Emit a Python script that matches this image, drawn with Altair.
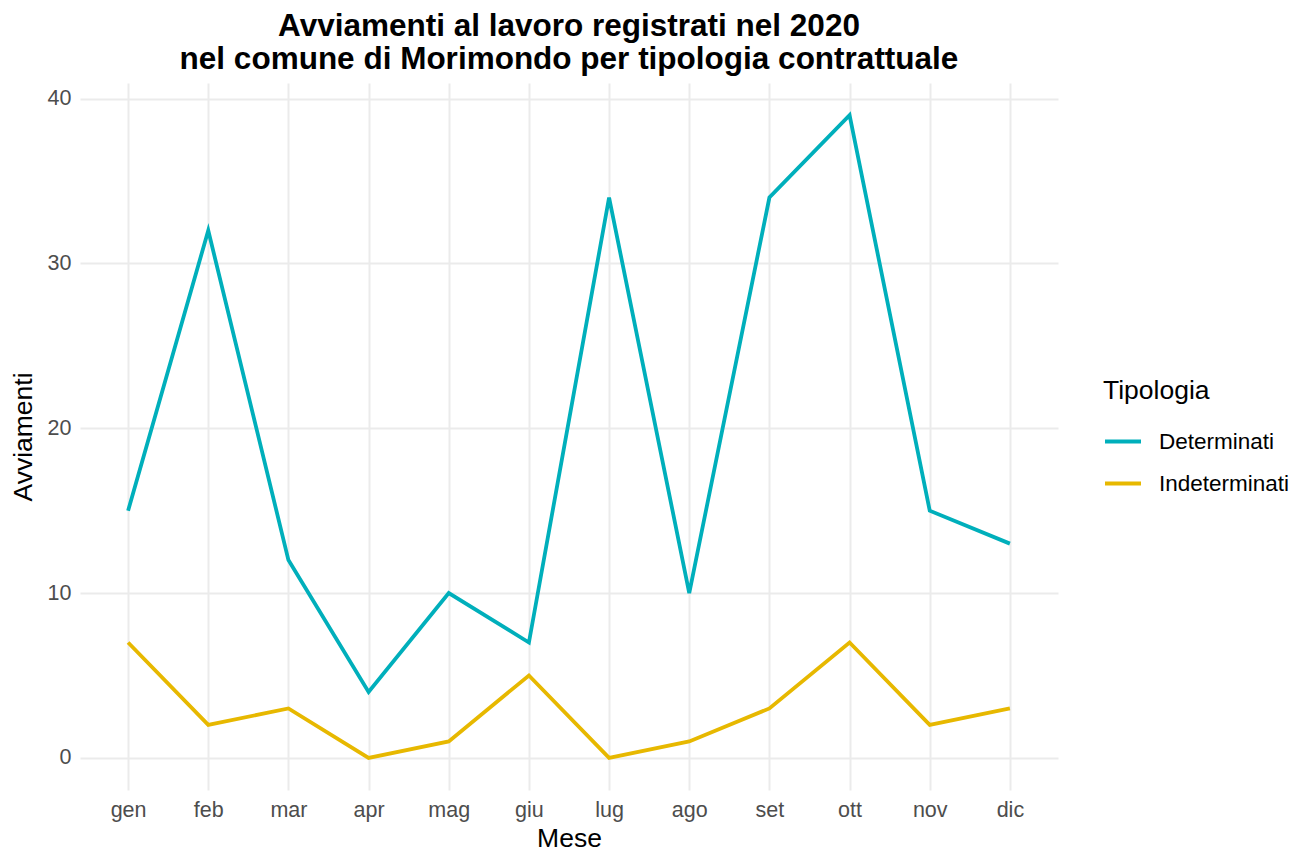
import altair as alt
import pandas as pd

mesi = ["gen", "feb", "mar", "apr", "mag", "giu", "lug", "ago", "set", "ott", "nov", "dic"]
determinati = [15, 32, 12, 4, 10, 7, 34, 10, 34, 39, 15, 13]
indeterminati = [7, 2, 3, 0, 1, 5, 0, 1, 3, 7, 2, 3]
tipologie = ["Determinati", "Indeterminati"]
colori = ["#00AFBB", "#E7B800"]

rows = []
for m, d, i in zip(mesi, determinati, indeterminati):
    rows.append({"Mese": m, "Tipologia": "Determinati", "Avviamenti": d})
    rows.append({"Mese": m, "Tipologia": "Indeterminati", "Avviamenti": i})
df = pd.DataFrame(rows)

FONT = "Liberation Sans"

chart = alt.Chart(df).mark_line(strokeWidth=3.8).encode(
    x=alt.X("Mese:N", sort=mesi,
            scale=alt.Scale(type="point", padding=0.6),
            axis=alt.Axis(title="Mese", labelAngle=0, ticks=False, domain=False,
                          grid=True, gridColor="#EBEBEB", gridWidth=2,
                          labelFontSize=21.5, labelColor="#4D4D4D", labelPadding=9,
                          titleFontSize=26.5, titleFontWeight="normal", titleColor="#000000",
                          titlePadding=5, labelFont=FONT, titleFont=FONT)),
    y=alt.Y("Avviamenti:Q",
            scale=alt.Scale(domain=[-1.95, 40.95], nice=False, zero=False),
            axis=alt.Axis(title="Avviamenti", values=[0, 10, 20, 30, 40], ticks=False, domain=False,
                          grid=True, gridColor="#EBEBEB", gridWidth=2,
                          labelFontSize=21.5, labelColor="#4D4D4D", labelPadding=9,
                          titleFontSize=26.5, titleFontWeight="normal", titleColor="#000000",
                          titlePadding=10, labelFont=FONT, titleFont=FONT)),
    color=alt.Color("Tipologia:N", sort=tipologie,
                    scale=alt.Scale(domain=tipologie, range=colori),
                    legend=alt.Legend(title="Tipologia", orient="none", legendX=1023, legendY=295,
                                      titleFontSize=26.5, titleFontWeight="normal", titleFont=FONT,
                                      titleColor="#000000", titlePadding=17,
                                      labelFontSize=22.5, labelFont=FONT, labelColor="#000000",
                                      symbolType="stroke", symbolStrokeWidth=3.8, symbolSize=1296,
                                      rowPadding=10, labelOffset=16)),
).properties(
    width=978,
    height=707,
    title=alt.TitleParams(
        text=["Avviamenti al lavoro registrati nel 2020",
              "nel comune di Morimondo per tipologia contrattuale"],
        fontSize=31.5, fontWeight="bold", font=FONT, color="#000000",
        anchor="middle", frame="group", offset=8, lineHeight=33),
    autosize=alt.AutoSizeParams(type="none"),
    padding={"left": 72, "top": 75, "right": 235, "bottom": 60},
).configure_view(stroke=None)

chart.save("out.html", embed_options={"renderer": "svg", "actions": False})
